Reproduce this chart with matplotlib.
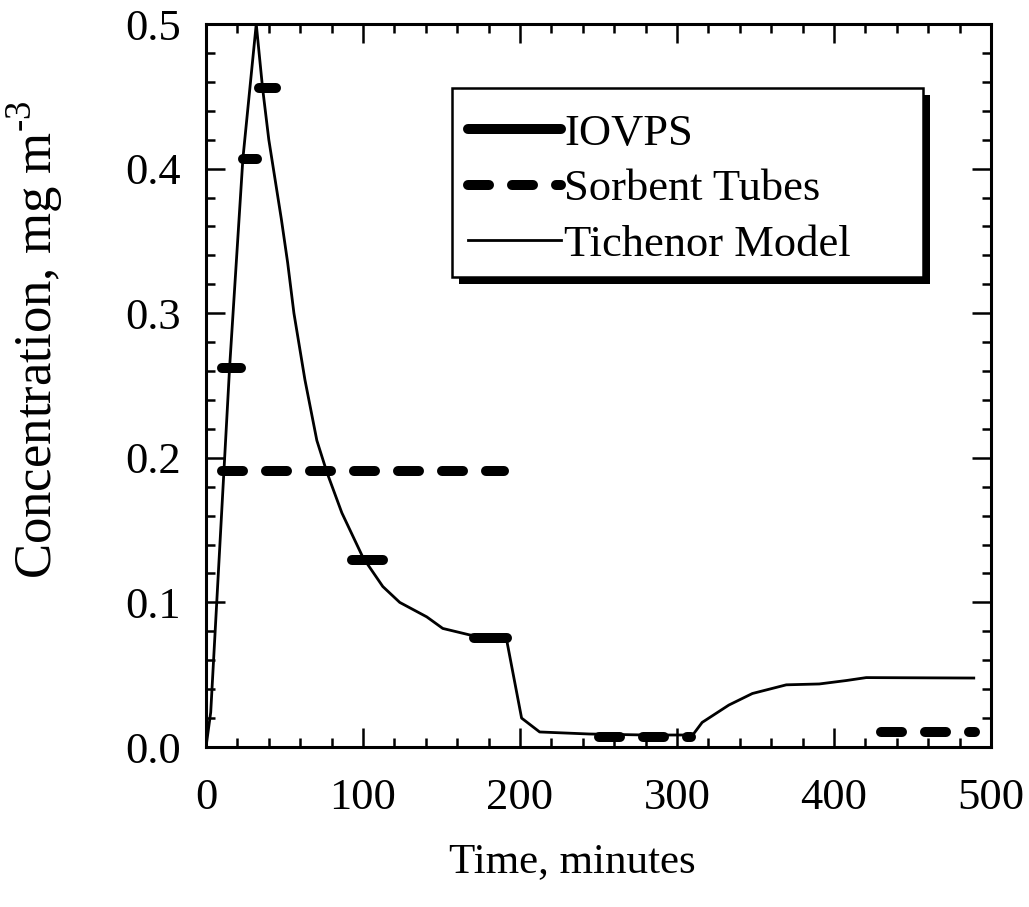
import matplotlib
matplotlib.use("Agg")
import matplotlib.pyplot as plt
import matplotlib.patheffects as pe
from matplotlib.patches import Rectangle
from matplotlib.ticker import MultipleLocator

# Tichenor model curve (time in minutes, concentration mg m-3)
model_t = [0, 3, 15, 23.5, 32, 36, 40, 48, 52, 56, 63, 70.6, 77, 86.5, 100,
           112.6, 123.4, 140.6, 150.8, 168, 191.5, 201, 212.5, 244, 280, 310,
           316, 333, 348, 369.6, 390.6, 408, 420.5, 489]
model_c = [0.0, 0.024, 0.262, 0.407, 0.5, 0.456, 0.42, 0.365, 0.335, 0.30,
           0.254, 0.212, 0.19, 0.162, 0.131, 0.111, 0.100, 0.090, 0.082,
           0.0775, 0.074, 0.020, 0.0104, 0.0090, 0.0083, 0.0083, 0.017, 0.029,
           0.037, 0.043, 0.0436, 0.046, 0.048, 0.0477]

# IOVPS integrated samples: start, end, concentration
iovps_start = [10, 23.5, 34, 93, 171]
iovps_end = [22, 32.5, 44.5, 113, 191.5]
iovps_conc = [0.262, 0.407, 0.456, 0.129, 0.0754]

# Sorbent tube samples: start, end, concentration
tube_start = [10, 250, 430]
tube_end = [190, 309, 490]
tube_conc = [0.191, 0.0069, 0.0104]

plt.rcParams['font.family'] = ['Liberation Serif', 'DejaVu Serif']
plt.rcParams['mathtext.fontset'] = 'custom'
plt.rcParams['mathtext.rm'] = 'Liberation Serif'

fig = plt.figure(figsize=(10.29, 9.07), dpi=100)
ax = fig.add_axes([0.2002, 0.1764, 0.7629, 0.7971])

THICK = 7.2

# IOVPS bars
for i in range(len(iovps_conc)):
    ax.plot([iovps_start[i], iovps_end[i]], [iovps_conc[i], iovps_conc[i]],
            color='black', lw=THICK, solid_capstyle='round',
            label='IOVPS' if i == 0 else None, zorder=3)

# sorbent tubes
for i in range(len(tube_conc)):
    ax.plot([tube_start[i], tube_end[i]], [tube_conc[i], tube_conc[i]],
            color='black', lw=THICK, linestyle=(0, (2.1, 2.3)),
            dash_capstyle='round',
            label='Sorbent Tubes' if i == 0 else None, zorder=3)

# model
ax.plot(model_t, model_c, color='black', lw=2.0, label='Tichenor Model', zorder=2)

ax.set_xlim(0, 500)
ax.set_ylim(0, 0.5)
ax.set_xticks([0, 100, 200, 300, 400, 500])
ax.set_yticks([0.0, 0.1, 0.2, 0.3, 0.4, 0.5])
ax.set_yticklabels(['0.0', '0.1', '0.2', '0.3', '0.4', '0.5'])
ax.xaxis.set_minor_locator(MultipleLocator(20))
ax.yaxis.set_minor_locator(MultipleLocator(0.02))

for sp in ax.spines.values():
    sp.set_linewidth(2.2)
ax.tick_params(which='both', direction='in', top=True, right=True, width=1.8)
ax.tick_params(which='major', length=14, labelsize=32)
ax.tick_params(axis='x', which='major', pad=22)
ax.tick_params(axis='y', which='major', pad=18)
ax.tick_params(which='minor', length=6.5)

ax.set_xlabel('Time, minutes', fontsize=31)
ax.xaxis.set_label_coords(0.467, -0.132)
ax.set_ylabel('Concentration, mg m$^{\\text{-}3}$', fontsize=38)
ax.yaxis.set_label_coords(-0.18, 0.563)

# legend box with drop shadow
box = Rectangle((0.3134, 0.650), 0.600, 0.2614, transform=ax.transAxes,
                facecolor='white', edgecolor='black', lw=1.8, zorder=4)
box.set_path_effects([pe.SimplePatchShadow(offset=(5, -5), shadow_rgbFace='black', alpha=1.0),
                      pe.Normal()])
ax.add_patch(box)

leg = ax.legend(loc='upper left', bbox_to_anchor=(0.3134, 0.8977), borderaxespad=0,
                frameon=False, fontsize=32, handlelength=2.1, handletextpad=0.07,
                labelspacing=0.35, borderpad=0.35)
leg.set_zorder(5)

fig.savefig('out.png', dpi=100)
